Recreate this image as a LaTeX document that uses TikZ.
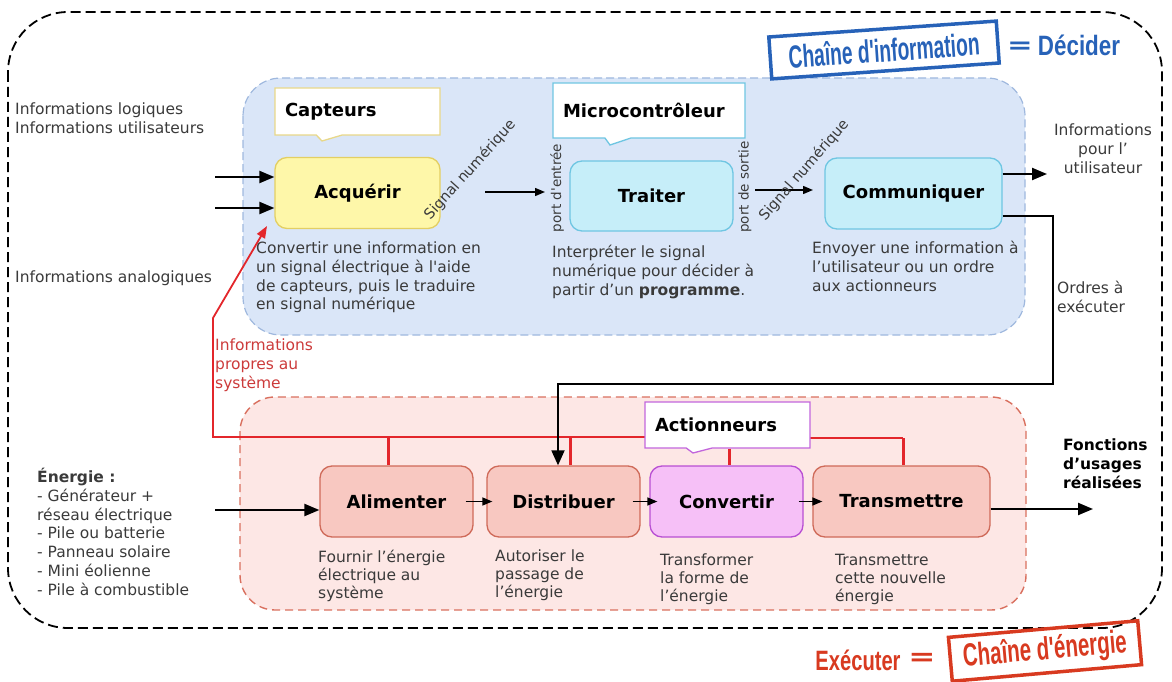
\documentclass[tikz,border=0pt]{standalone}
\usepackage{fontspec}
\setmainfont{DejaVu Sans}
\newfontfamily\stampfont{Liberation Sans}
\usetikzlibrary{arrows.meta,shapes.callouts}

\definecolor{bluezone}{HTML}{DAE6F8}
\definecolor{blueedge}{HTML}{9FB8DE}
\definecolor{redzone}{HTML}{FDE7E5}
\definecolor{rededge}{HTML}{D9705F}
\definecolor{acqfill}{HTML}{FEF7A9}
\definecolor{acqedge}{HTML}{E3CF63}
\definecolor{capedge}{HTML}{E8D889}
\definecolor{tfill}{HTML}{C6EEF9}
\definecolor{tedge}{HTML}{6FC6E2}
\definecolor{efill}{HTML}{F8C8C1}
\definecolor{eedge}{HTML}{CF6A59}
\definecolor{cfill}{HTML}{F6C0F7}
\definecolor{cedge}{HTML}{B84FD3}
\definecolor{actedge}{HTML}{C266DC}
\definecolor{busred}{HTML}{E3262B}
\definecolor{redtext}{HTML}{CC3B3B}
\definecolor{txtgray}{HTML}{3A3A3A}
\definecolor{stampblue}{HTML}{2762B8}
\definecolor{stampred}{HTML}{D83A20}

\newcommand\bodyfont{\fontsize{15.5}{18.8}\selectfont}
\newcommand\lblfont{\fontsize{18}{20}\selectfont\bfseries}
\newcommand\rotfont{\fontsize{14.5}{16}\selectfont}
\newcommand\stampfs[1]{\fontsize{#1}{#1}\selectfont}

\tikzset{
  % multi-line texts: the anchor sits on the baseline of the last line
  body/.style={inner sep=0pt, anchor=base west, align=left, font=\bodyfont, text=txtgray},
  fbox/.style={rounded corners=12pt, line width=1.3pt, minimum height=71pt, font=\lblfont, text=black},
  acqbox/.style={fbox, fill=acqfill, draw=acqedge},
  infobox/.style={fbox, fill=tfill, draw=tedge},
  enbox/.style={fbox, fill=efill, draw=eedge},
  convbox/.style={fbox, fill=cfill, draw=cedge},
  tag/.style={rectangle callout, fill=white, line width=1.3pt, inner xsep=10pt,
    align=left, font=\lblfont, text=black, callout pointer width=26pt},
  bigarrow/.style={line width=2.2pt, -{Triangle[length=15pt,width=12pt]}},
  smallarrow/.style={line width=1.4pt, -{Triangle[length=10pt,width=8pt]}},
  redbus/.style={busred, line width=1.8pt},
  reddrop/.style={busred, line width=3pt},
  rotlabel/.style={inner sep=0pt, font=\rotfont, text=txtgray},
}

\begin{document}
\begin{tikzpicture}[x=1pt,y=-1pt]
\useasboundingbox (0,0) rectangle (1172,682);

% frames of the two chains
\draw[line width=1.8pt, dash pattern=on 10pt off 5pt, rounded corners=60pt]
  (8,12) rectangle (1162,628);
\draw[fill=bluezone, draw=blueedge, line width=1.2pt, dash pattern=on 8pt off 4pt,
  rounded corners=38pt] (243,78) rectangle (1025,335);
\draw[fill=redzone, draw=rededge, line width=1.4pt, dash pattern=on 8pt off 5pt,
  rounded corners=35pt] (240,397) rectangle (1026,610);

% function blocks
\node[acqbox, minimum width=165pt] (acq) at (357.5,193) {Acquérir};
\node[infobox, minimum width=163pt, minimum height=70pt] (trait) at (651.5,196) {Traiter};
\node[infobox, minimum width=177pt] (comm) at (913.5,193.5) {Communiquer};
\node[enbox, minimum width=153pt] (alim) at (396.5,501.5) {Alimenter};
\node[enbox, minimum width=153pt] (dist) at (563.5,501.5) {Distribuer};
\node[convbox, minimum width=153pt] (conv) at (726.5,501.5) {Convertir};
\node[enbox, minimum width=177pt] (trans) at (901.5,501.5) {Transmettre};

% component tags
\node[tag, draw=capedge, text width=145pt, minimum height=47pt,
  callout absolute pointer={(322,141)}] (capt) at (357.5,111.5) {Capteurs};
\node[tag, draw=tedge, text width=172pt, minimum height=55pt,
  callout absolute pointer={(610,145)}] (micro) at (649,110.5) {Microcontrôleur};

% system feedback (red)
\coordinate (busL) at (213,437);
\coordinate (bend) at (213,318);
\coordinate (rtip) at (267,226);
\coordinate (busR) at (903,438);
\coordinate (d1) at (388,437);
\coordinate (d2) at (570,437);
\coordinate (d3) at (729,448);
\draw[redbus, -{Triangle[length=12pt,width=9pt]}] (645,437) -- (busL) -- (bend) -- (rtip);
\draw[redbus] (810,438) -- (busR);
\draw[reddrop] (d1) -- (d1 |- alim.north);
\draw[reddrop] (d2) -- (d2 |- dist.north);
\draw[reddrop] (busR) -- (busR |- trans.north);

\node[tag, draw=actedge, text width=145pt, minimum height=46pt,
  callout absolute pointer={(693,453)}] (act) at (727.5,425) {Actionneurs};
\draw[reddrop] (d3 |- act.south) -- (d3 |- conv.north);

% orders to the energy chain
\coordinate (o1) at (1053,216);
\coordinate (o2) at (1053,384);
\coordinate (o3) at (558,384);
\draw[line width=1.8pt, -{Triangle[length=15pt,width=13pt]}]
  (o1 -| comm.east) -- (o1) -- (o2) -- (o3) -- (o3 |- dist.north);

% information flow
\coordinate (i1) at (215,177);
\coordinate (i2) at (215,208);
\draw[bigarrow] (i1) -- (i1 -| acq.west);
\draw[bigarrow] (i2) -- (i2 -| acq.west);
\coordinate (s1a) at (485,192);
\coordinate (s1b) at (545,192);
\draw[smallarrow] (s1a) -- (s1b);
\coordinate (s2a) at (755,190);
\coordinate (s2b) at (813,190);
\draw[smallarrow] (s2a) -- (s2b);
\coordinate (uout) at (1047,174);
\draw[bigarrow] (uout -| comm.east) -- (uout);

% energy flow
\coordinate (ein) at (215,510);
\draw[bigarrow] (ein) -- (ein -| alim.west);
\draw[smallarrow] ([xshift=-8pt]alim.east) -- ([xshift=6pt]dist.west);
\draw[smallarrow] ([xshift=-8pt]dist.east) -- ([xshift=8pt]conv.west);
\draw[smallarrow] ([xshift=-5pt]conv.east) -- ([xshift=10pt]trans.west);
\coordinate (fout) at (1093,509);
\draw[bigarrow] (fout -| trans.east) -- (fout);

% port and signal labels
\node[rotlabel, rotate=48] (sig1) at (470,170) {Signal numérique};
\node[rotlabel, rotate=49] (sig2) at (804,170) {Signal numérique};
\node[rotlabel, rotate=90, font=\fontsize{13.5}{15}\selectfont] (pin) at (557,188) {port d\textquotesingle entrée};
\node[rotlabel, rotate=90, font=\fontsize{13.5}{15}\selectfont] (pout) at (745,187) {port de sortie};

% texts (positions give the baseline of the last line)
\node[body] (inlog) at (15,133.3) {Informations logiques\\Informations utilisateurs};
\node[body] (inana) at (15,282.5) {Informations analogiques};
\node[body, text=redtext] (inprop) at (215,388.1) {Informations\\propres au\\système};
\node[body] (dacq) at (256,309.9) {Convertir une information en\\un signal électrique à l\textquotesingle aide\\de capteurs, puis le traduire\\en signal numérique};
\node[body] (dtrait) at (552,295.1) {Interpréter le signal\\numérique pour décider à\\partir d’un \textbf{programme}.};
\node[body] (dcomm) at (812,291.1) {Envoyer une information à\\l’utilisateur ou un ordre\\aux actionneurs};
\node[body] (ordres) at (1057,312.3) {Ordres à\\exécuter};
\node[body, anchor=base, align=center] (infout) at (1103,173.1) {Informations\\pour l’\\utilisateur};
\node[body] (energ) at (37,595.3) {\textbf{Énergie :}\\- Générateur +\\réseau électrique\\- Pile ou batterie\\- Panneau solaire\\- Mini éolienne\\- Pile à combustible};
\node[body, font=\bodyfont\bfseries, text=black] (fonct) at (1063,488.1) {Fonctions\\d’usages\\réalisées};
\node[body, font=\fontsize{15.5}{18.2}\selectfont] (dalim) at (318,598.9) {Fournir l’énergie\\électrique au\\système};
\node[body, font=\fontsize{15.5}{18.2}\selectfont] (ddist) at (495,597.9) {Autoriser le\\passage de\\l’énergie};
\node[body, font=\fontsize{15.5}{18.2}\selectfont] (dconv) at (660,601.9) {Transformer\\la forme de\\l’énergie};
\node[body, font=\fontsize{15.5}{18.2}\selectfont] (dtrans) at (835,601.9) {Transmettre\\cette nouvelle\\énergie};

% stamps
\node[rotate=4, draw=stampblue, line width=3.5pt, minimum width=228pt, minimum height=42pt,
  inner sep=0pt, text=stampblue] (infostamp) at (884,50)
  {\stampfont\bfseries\stampfs{32}\scalebox{0.6}[1]{Chaîne d\textquotesingle information}};
\node[text=stampblue, inner sep=0pt] (eqinfo) at (1020,48)
  {\bfseries\stampfs{34}\scalebox{0.9}[0.7]{=}};
\node[text=stampblue, inner sep=0pt] (decider) at (1079,45)
  {\stampfont\bfseries\stampfs{28}\scalebox{0.8}[1]{Décider}};

\node[rotate=5, draw=stampred, line width=3.5pt, minimum width=190pt, minimum height=44pt,
  inner sep=0pt, text=stampred] (enstamp) at (1045,651)
  {\stampfont\bfseries\stampfs{32}\scalebox{0.64}[1]{Chaîne d\textquotesingle énergie}};
\node[text=stampred, inner sep=0pt] (eqen) at (922,659)
  {\bfseries\stampfs{36}\scalebox{0.9}[0.7]{=}};
\node[text=stampred, inner sep=0pt] (executer) at (858,660)
  {\stampfont\bfseries\stampfs{28}\scalebox{0.72}[1]{Exécuter}};
\end{tikzpicture}
\end{document}
